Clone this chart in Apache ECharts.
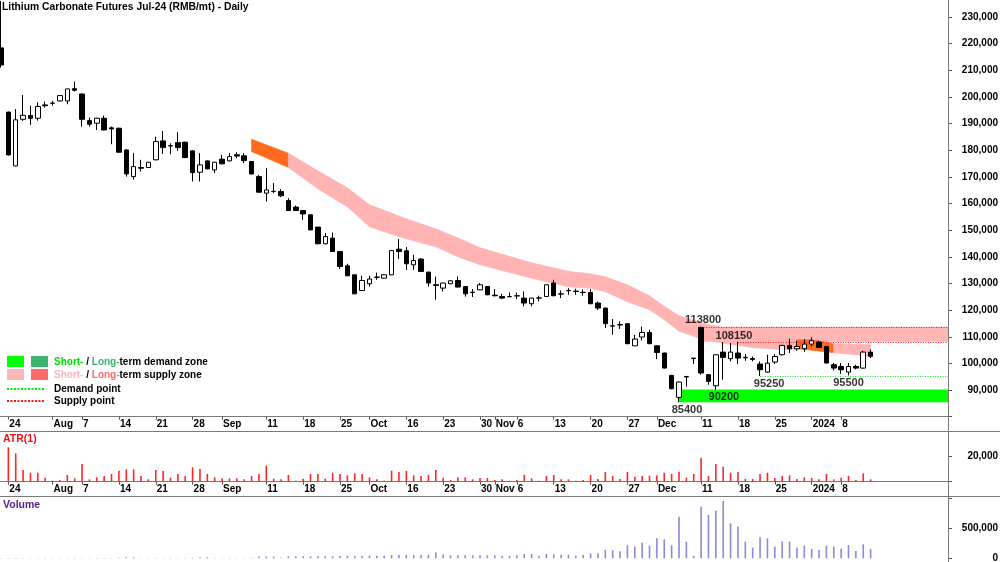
<!DOCTYPE html>
<html>
<head>
<meta charset="utf-8">
<script src="https://cdn.jsdelivr.net/npm/echarts@6/dist/echarts.min.js"></script>
<style>
  html, body { margin: 0; padding: 0; background: #fff; }
  #main { width: 1000px; height: 562px; }
</style>
</head>
<body>
<div id="main"></div>
<script>
// trading days, Jul 21 2023 .. Jan 12 2024
var dates = [
  '07-21', '07-24', '07-25', '07-26', '07-27', '07-28', '07-31',
  '08-01', '08-02', '08-03', '08-04', '08-07', '08-08', '08-09', '08-10', '08-11',
  '08-14', '08-15', '08-16', '08-17', '08-18', '08-21', '08-22', '08-23', '08-24', '08-25',
  '08-28', '08-29', '08-30', '08-31', '09-01', '09-04', '09-05', '09-06', '09-07', '09-08',
  '09-11', '09-12', '09-13', '09-14', '09-15', '09-18', '09-19', '09-20', '09-21', '09-22',
  '09-25', '09-26', '09-27', '09-28', '10-09', '10-10', '10-11', '10-12', '10-13',
  '10-16', '10-17', '10-18', '10-19', '10-20', '10-23', '10-24', '10-25', '10-26', '10-27',
  '10-30', '10-31', '11-01', '11-02', '11-03', '11-06', '11-07', '11-08', '11-09', '11-10',
  '11-13', '11-14', '11-15', '11-16', '11-17', '11-20', '11-21', '11-22', '11-23', '11-24',
  '11-27', '11-28', '11-29', '11-30', '12-01', '12-04', '12-05', '12-06', '12-07', '12-08',
  '12-11', '12-12', '12-13', '12-14', '12-15', '12-18', '12-19', '12-20', '12-21', '12-22',
  '12-25', '12-26', '12-27', '12-28', '12-29', '01-02', '01-03', '01-04', '01-05',
  '01-08', '01-09', '01-10', '01-11', '01-12'
];

var open = [
  218400, 194300, 174100, 191600, 193000, 192000, 197000,
  197600, 198500, 198500, 203100, 201100, 191100, 190150, 192000, 188400,
  188250, 180100, 170100, 173500, 173500, 176400, 183500, 181700, 182900, 183000,
  179750, 171750, 176000, 172600, 176650, 176000, 178300, 177900, 175750, 170100,
  163900, 164500, 164500, 161100, 158650, 157350, 155750, 151150, 144900, 147000,
  142000, 136600, 133250, 127350, 129900, 132300, 132000, 133250, 142850,
  142250, 137000, 139150, 134250, 129500, 128250, 129900, 131100, 128850, 126600,
  127600, 128850, 125600, 125100, 125000, 125300, 124500, 122400, 124500, 125100,
  130150, 126000, 127250, 127000, 126700, 126600, 122650, 120750, 114100, 114400,
  114900, 106600, 109900, 111600, 106600, 103900, 95500, 87250, 94900, 101800,
  113500, 95750, 91600, 104250, 101750, 103900, 102300, 101800, 99750, 96750,
  100500, 103250, 106750, 105500, 105500, 107250, 108000, 106350, 99500,
  98850, 96750, 98850, 98250, 104250
];
var close = [
  212000, 178250, 191400, 193100, 192000, 196400, 196700,
  197700, 200500, 203000, 202500, 191600, 189750, 192000, 187600, 188000,
  179250, 171100, 173850, 173250, 175500, 183250, 181000, 181600, 181000, 177250,
  171600, 174500, 173000, 175500, 174900, 177600, 177800, 176100, 171100, 164250,
  165100, 164600, 162900, 157350, 157350, 156100, 150100, 144900, 147600, 142000,
  136350, 132900, 126100, 131100, 131650, 132400, 133250, 142350, 142000,
  137400, 138600, 134500, 130150, 129250, 130150, 131000, 128650, 126100, 126750,
  129500, 125750, 125400, 124500, 125100, 125400, 122650, 124500, 124600, 129500,
  125400, 126100, 127350, 127100, 126600, 122400, 120750, 114900, 114000, 114600,
  107400, 109150, 111600, 107400, 104100, 98250, 90500, 93000, 95100, 102000,
  96400, 93250, 103250, 102250, 104250, 102000, 102100, 101500, 97600, 100100,
  102600, 106750, 105500, 106350, 107250, 108500, 106000, 100150, 98250,
  97600, 98850, 98250, 104250, 102650
];
var low = [
  211000, 178000, 174000, 191000, 189500, 191100, 196000,
  196700, 198300, 197250, 202000, 188850, 188850, 187600, 187500, 182250,
  179000, 170100, 168900, 172000, 173400, 176200, 178600, 178500, 179750, 177000,
  168250, 168250, 172800, 171400, 174700, 175800, 177000, 175150, 170900, 164000,
  160750, 163900, 162400, 157200, 157200, 153900, 150000, 144700, 144700, 141800,
  135500, 132700, 126000, 127200, 128850, 131400, 131900, 133100, 139150,
  135100, 135100, 134300, 128850, 123900, 127000, 129700, 128500, 125100, 124900,
  127500, 125600, 125100, 124150, 124900, 124150, 121400, 121400, 123250, 125000,
  125200, 124500, 125750, 125750, 125400, 122200, 120000, 113250, 110750, 112900,
  107200, 106500, 108600, 107200, 101600, 98100, 90300, 85400, 91350, 99750,
  95750, 92000, 90200, 93900, 100750, 99750, 101000, 100750, 95250, 96500,
  99750, 103000, 103900, 104750, 104350, 106350, 105800, 100000, 97350,
  96000, 95500, 97750, 98000, 102000
];
var high = [
  236000, 194500, 195400, 200750, 196750, 198000, 198250,
  198500, 200600, 203100, 205750, 201200, 192250, 192200, 193000, 188900,
  188500, 180400, 178900, 176400, 175600, 185100, 187250, 182600, 186750, 183200,
  180000, 178900, 176200, 175600, 178250, 178900, 179250, 178900, 175900, 170750,
  173250, 167650, 165400, 162000, 159250, 157500, 155900, 151300, 148900, 149100,
  142200, 137400, 133400, 132900, 132900, 134100, 133400, 142500, 146650,
  143650, 140750, 139500, 134400, 132600, 130300, 131300, 132600, 129000, 127900,
  130150, 129000, 127900, 126100, 126600, 126600, 127000, 124600, 125400, 129600,
  131400, 127350, 128250, 128000, 127750, 127900, 123250, 120900, 116650, 115750,
  115000, 110750, 113850, 112600, 106800, 104000, 95700, 93200, 95250, 102000,
  113800, 96000, 103300, 108000, 107650, 108150, 103500, 102600, 100750, 103250,
  103500, 107000, 109250, 108500, 109100, 109750, 108500, 106500, 100150,
  100150, 100150, 99500, 104750, 105250
];

// ATR(1) pane
var atr = [
  null, 27500, 22700, 9400, 7200, 7200, 3200,
  800, 1400, 5400, 2700, 14200, 1900, 3500, 4600, 6200,
  8800, 9900, 9900, 4600, 1900, 9400, 8600, 3200, 6200, 4600,
  11500, 10200, 6200, 3500, 2700, 2700, 2700, 1900, 4600, 6200,
  12800, 2400, 1900, 5400, 800, 2400, 6200, 6200, 2400, 7200,
  6200, 5100, 6700, 6200, 3500, 1900, 800, 8800, 7800,
  8600, 5100, 4600, 5400, 9400, 3200, 1400, 3500, 3500, 1900,
  3000, 3000, 1400, 1900, 800, 1400, 5400, 2700, 800, 4600,
  5400, 1900, 1900, 800, 1400, 5400, 2200, 7800, 4600, 2200,
  7800, 4000, 4600, 4800, 5100, 7200, 6200, 8000, 3200, 6200,
  19200, 4600, 14200, 12000, 7200, 7800, 2200, 2200, 6200, 7200,
  3000, 4600, 5100, 2200, 3500, 3000, 1900, 6200, 1900,
  3200, 4600, 1400, 6700, 1900
];

// volume pane
var volume = [
  5000, 5000, 5000, 5000, 5000, 5000, 5000,
  5000, 5000, 5000, 5000, 5000, 5000, 5000, 5000, 5000,
  8000, 17000, 17000, 6000, 6000, 6000, 6000, 6000, 6000, 6000,
  8000, 17000, 17000, 6000, 6000, 6000, 6000, 6000, 8000, 28000,
  28000, 28000, 8000, 33000, 33000, 33000, 33000, 33000, 33000, 33000,
  39000, 39000, 39000, 39000, 44000, 44000, 44000, 55000, 55000,
  55000, 55000, 55000, 60000, 95000, 62000, 50000, 50000, 50000, 50000,
  50000, 50000, 50000, 39000, 39000, 50000, 72000, 72000, 39000, 72000,
  67000, 61000, 61000, 44000, 56000, 83000, 83000, 139000, 133000, 117000,
  217000, 194000, 261000, 211000, 333000, 317000, 217000, 694000, 278000, 39000,
  861000, 722000, 794000, 956000, 583000, 528000, 278000, 178000, 350000, 333000,
  194000, 278000, 278000, 178000, 211000, 156000, 139000, 211000, 194000,
  161000, 222000, 122000, 233000, 156000
];

// x axis labels (category index -> text)
var tickAt = [1, 7, 11, 16, 21, 26, 30, 36, 41, 46, 50, 55, 60, 65, 67, 70, 75, 80, 85, 89, 95, 100, 105, 110, 114];
var tickText = ['24', 'Aug', '7', '14', '21', '28', 'Sep', '11', '18', '25', 'Oct', '16', '23', '30', 'Nov', '6', '13', '20', '27', 'Dec', '11', '18', '25', '2024', '8'];

// short-term supply band (pink curve), sampled
var bandIdx = [34, 39, 43, 47, 50, 52, 55, 59, 62, 65, 72, 77, 80, 82, 85, 88, 90, 92, 95, 98, 102, 107, 108, 110, 113, 116, 118];
var bandTop = [184100, 178900, 172250, 165900, 159500, 157450, 154250, 150500, 147100, 143400, 137750, 134550, 133600, 132500, 129500, 125400, 121450, 117900, 115250, 113400, 111500, 109600, 108900, 108900, 107400, 107200, 107000];
var bandBot = [179500, 173500, 165500, 158750, 151250, 149400, 146750, 143750, 140000, 137000, 131950, 128750, 128200, 126900, 123100, 120100, 116400, 112050, 109250, 107550, 105900, 105100, 105500, 104950, 104000, 103250, 102700];
var bandHot = [[34, 39], [108, 113]];

// zones (start index, low, high)
var zoneStart = [95, 92];
var zoneLow = [108150, 85400];
var zoneHigh = [113800, 90200];

// demand / supply points
var pointStart = [95, 100, 103];
var pointValue = [113800, 108150, 95250];

// price annotations
var noteIdx = [95, 100, 103, 115, 97, 92];
var noteVal = [113800, 108150, 95250, 95500, 90200, 85400];

var FONT = 'Liberation Sans, Arial, sans-serif';
var N = 129;
var cats = [];
for (var i = 0; i < N; i++) cats.push(i < dates.length ? dates[i] : '');

var zoneColors = ['#ffb6b6', '#00ff00'];
var pointColors = ['#555555', '#ff1a1a', '#22dd22'];
var notePos = ['top', 'top', 'bottom', 'bottom', 'bottom', 'bottom'];
var noteDx = [2, -4, 9, 0, 8, 8];
var noteDist = [1, 0, 2, 2, 2, 2];

function isTick(i) { return tickAt.indexOf(i) >= 0; }
function tickLabel(v, i) {
  var k = tickAt.indexOf(i);
  return k >= 0 ? tickText[k] : '';
}
function fmt(v) { return v.toLocaleString('en-US'); }

function xAxisFor(g, labels) {
  return {
    gridIndex: g,
    type: 'category',
    data: cats,
    boundaryGap: true,
    axisLine: { show: labels, lineStyle: { color: '#7a7a7a', width: 1 } },
    axisTick: { show: labels, alignWithLabel: true, interval: isTick, length: 3, lineStyle: { color: '#555' } },
    axisLabel: {
      show: labels, interval: isTick, formatter: tickLabel, align: 'left', margin: 3,
      fontSize: 10, fontWeight: 'bold', color: '#000', fontFamily: FONT, padding: [0, 0, 0, 1]
    },
    splitLine: { show: false }
  };
}

function yAxisFor(g, min, max, step, show) {
  return {
    gridIndex: g,
    type: 'value',
    position: 'right',
    min: min, max: max, interval: step,
    axisLine: { show: false },
    axisTick: { show: true, length: 4, lineStyle: { color: '#555' } },
    axisLabel: {
      formatter: function (v) { return show(v) ? fmt(v) : ''; },
      align: 'right', margin: 50, fontSize: 10, fontWeight: 'bold', color: '#000', fontFamily: FONT
    },
    splitLine: { show: false }
  };
}

function bandItem(params, api) {
  var k = params.dataIndex;
  var a = bandIdx[k], b = bandIdx[k + 1];
  var hot = false;
  bandHot.forEach(function (r) { if (a >= r[0] && b <= r[1]) hot = true; });
  var c = hot ? '#ff6a1f' : '#ffb3b3';
  return {
    type: 'polygon',
    shape: { points: [
      api.coord([a, bandTop[k]]), api.coord([b, bandTop[k + 1]]),
      api.coord([b, bandBot[k + 1]]), api.coord([a, bandBot[k]])
    ] },
    style: { fill: c, stroke: c, lineWidth: 0.6 }
  };
}

function zoneItem(params, api) {
  var k = params.dataIndex;
  var cs = params.coordSys;
  var t = api.coord([zoneStart[k], zoneHigh[k]]);
  var b = api.coord([zoneStart[k], zoneLow[k]]);
  return {
    type: 'rect',
    shape: { x: t[0], y: t[1], width: cs.x + cs.width - t[0], height: b[1] - t[1] },
    style: { fill: zoneColors[k] }
  };
}

function pointItem(params, api) {
  var k = params.dataIndex;
  var cs = params.coordSys;
  var p = api.coord([pointStart[k], pointValue[k]]);
  var y = Math.round(p[1]) + 0.5;
  return {
    type: 'line',
    shape: { x1: p[0], y1: y, x2: cs.x + cs.width, y2: y },
    style: { stroke: pointColors[k], lineWidth: 1, lineDash: [1, 1.5] }
  };
}

var chart = echarts.init(document.getElementById('main'));

var gridBase = { left: -2.7, right: 52, outerBoundsMode: 'none', containLabel: false };

var option = {
  animation: false,
  backgroundColor: '#fff',
  textStyle: { fontFamily: FONT },
  grid: [
    Object.assign({ top: -9.67, height: 426.37 }, gridBase),
    Object.assign({ top: 431.7, height: 50 }, gridBase),
    Object.assign({ top: 498.3, height: 60 }, gridBase)
  ],
  xAxis: [xAxisFor(0, true), xAxisFor(1, true), xAxisFor(2, false)],
  yAxis: [
    yAxisFor(0, 80000, 240000, 10000, function (v) { return v >= 90000 && v <= 230000; }),
    yAxisFor(1, 0, 40000, 20000, function (v) { return v === 20000; }),
    yAxisFor(2, 0, 1000000, 500000, function (v) { return v <= 500000; })
  ],
  series: [
    {
      type: 'custom', name: 'zones', xAxisIndex: 0, yAxisIndex: 0, z: 1,
      renderItem: zoneItem, silent: true,
      data: zoneStart.map(function (s, k) { return [s, zoneLow[k], zoneHigh[k]]; }),
      encode: { x: 0, y: [1, 2] }
    },
    {
      type: 'custom', name: 'band', xAxisIndex: 0, yAxisIndex: 0, z: 2,
      renderItem: bandItem, silent: true,
      data: bandIdx.slice(0, -1).map(function (x, k) { return [x, bandTop[k], bandBot[k]]; }),
      encode: { x: 0, y: [1, 2] }
    },
    {
      type: 'custom', name: 'points', xAxisIndex: 0, yAxisIndex: 0, z: 3,
      renderItem: pointItem, silent: true,
      data: pointStart.map(function (s, k) { return [s, pointValue[k]]; }),
      encode: { x: 0, y: 1 }
    },
    {
      type: 'candlestick', name: 'price', xAxisIndex: 0, yAxisIndex: 0, z: 4,
      barWidth: 5,
      data: open.map(function (o, i) { return [o, close[i], low[i], high[i]]; }),
      itemStyle: { color: '#ffffff', color0: '#000000', borderColor: '#000000', borderColor0: '#000000', borderWidth: 1 }
    },
    {
      type: 'scatter', name: 'notes', xAxisIndex: 0, yAxisIndex: 0, z: 5,
      symbolSize: 0, silent: true,
      data: noteIdx.map(function (x, k) {
        return {
          value: [x, noteVal[k]],
          label: { show: true, position: notePos[k], offset: [noteDx[k], 0], distance: noteDist[k],
            formatter: String(noteVal[k]), color: '#000', fontSize: 11, fontWeight: 'bold', fontFamily: FONT }
        };
      })
    },
    {
      type: 'bar', name: 'ATR(1)', xAxisIndex: 1, yAxisIndex: 1,
      barWidth: 1.6, data: atr, itemStyle: { color: '#ff2626' }
    },
    {
      type: 'bar', name: 'Volume', xAxisIndex: 2, yAxisIndex: 2,
      barWidth: 1.6, data: volume, itemStyle: { color: '#8a8ad8' }
    }
  ],
  graphic: [
    { type: 'line', z: 10, shape: { x1: 948.5, y1: 0, x2: 948.5, y2: 562 }, style: { stroke: '#7a7a7a', lineWidth: 1 } },
    { type: 'line', z: 10, shape: { x1: 0, y1: 431.5, x2: 1000, y2: 431.5 }, style: { stroke: '#7a7a7a', lineWidth: 1 } },
    { type: 'line', z: 10, shape: { x1: 0, y1: 496.5, x2: 1000, y2: 496.5 }, style: { stroke: '#7a7a7a', lineWidth: 1 } },
    { type: 'text', left: 2, top: 2, z: 10, style: { text: 'Lithium Carbonate Futures Jul-24 (RMB/mt) - Daily', font: 'bold 10.3px ' + FONT, fill: '#000' } },
    { type: 'text', left: 3, top: 434, z: 10, style: { text: 'ATR(1)', font: 'bold 10.5px ' + FONT, fill: '#ee1111' } },
    { type: 'text', left: 3, top: 500, z: 10, style: { text: 'Volume', font: 'bold 10.5px ' + FONT, fill: '#552288' } },
    // legend
    { type: 'rect', z: 10, shape: { x: 7, y: 356, width: 17, height: 11 }, style: { fill: '#00ff00' } },
    { type: 'rect', z: 10, shape: { x: 31, y: 356, width: 17, height: 11 }, style: { fill: '#3cb371' } },
    { type: 'rect', z: 10, shape: { x: 7, y: 369, width: 17, height: 11 }, style: { fill: '#ffb6b6' } },
    { type: 'rect', z: 10, shape: { x: 31, y: 369, width: 17, height: 11 }, style: { fill: '#ff6a6a' } },
    { type: 'line', z: 10, shape: { x1: 7, y1: 389, x2: 44, y2: 389 }, style: { stroke: '#00ee00', lineWidth: 2, lineDash: [2, 1.5] } },
    { type: 'line', z: 10, shape: { x1: 7, y1: 401, x2: 44, y2: 401 }, style: { stroke: '#ff1a1a', lineWidth: 2, lineDash: [2, 1.5] } },
    {
      type: 'text', z: 10, left: 54, top: 357,
      style: {
        text: '{g|Short-}{k| / }{d|Long-}{k|term demand zone}',
        rich: {
          g: { fill: '#00e000', font: 'bold 10px ' + FONT },
          d: { fill: '#3cb371', font: 'bold 10px ' + FONT },
          k: { fill: '#000', font: 'bold 10px ' + FONT }
        }
      }
    },
    {
      type: 'text', z: 10, left: 54, top: 370,
      style: {
        text: '{p|Short-}{k| / }{r|Long-}{k|term supply zone}',
        rich: {
          p: { fill: '#ffb6b6', font: 'bold 10px ' + FONT },
          r: { fill: '#ff6a6a', font: 'bold 10px ' + FONT },
          k: { fill: '#000', font: 'bold 10px ' + FONT }
        }
      }
    },
    { type: 'text', z: 10, left: 54, top: 384, style: { text: 'Demand point', font: 'bold 10px ' + FONT, fill: '#000' } },
    { type: 'text', z: 10, left: 54, top: 396, style: { text: 'Supply point', font: 'bold 10px ' + FONT, fill: '#000' } }
  ]
};

chart.setOption(option);
</script>
</body>
</html>
